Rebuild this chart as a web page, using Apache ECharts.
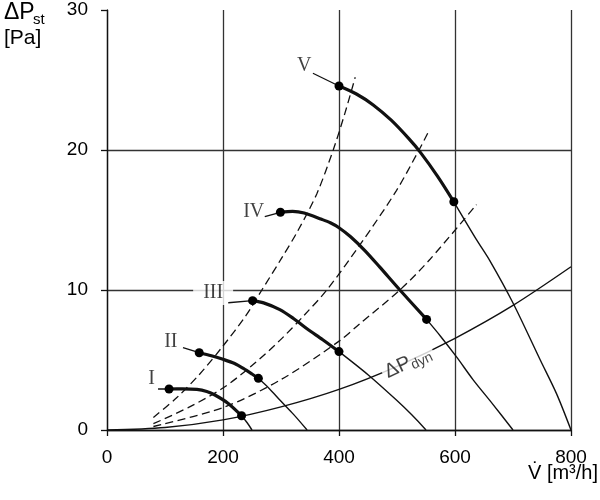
<!DOCTYPE html>
<html>
<head>
<meta charset="utf-8">
<script src="https://cdn.jsdelivr.net/npm/echarts@6/dist/echarts.min.js"></script>
<style>
html, body { margin: 0; padding: 0; background: #fff; }
#chart { width: 600px; height: 500px; }
</style>
</head>
<body>
<div id="chart"></div>
<script>
// axis ranges
var xMin = 0, xMax = 800, xStep = 200;
var yMin = 0, yMax = 30, yStep = 10;

// dynamic pressure curve
var dynCurve = [[0, 0], [100, 0.18], [200, 0.72], [300, 1.65], [400, 2.9], [500, 4.55], [600, 6.55], [700, 8.9], [800, 11.66]];

// system curves (dashed)
var system1 = [[80, 0.9], [120, 2.3], [160, 4.0], [200, 6.0], [240, 8.2], [267, 10], [300, 12.2], [330, 14.3], [362, 16.9], [390, 20], [410, 22.6], [428, 25.2]];
var system2 = [[80, 0.45], [140, 1.6], [200, 3.0], [250, 4.6], [298, 6.4], [340, 8.2], [379, 10], [439, 13.4], [499, 17.1], [538, 20], [553, 21.2]];
var system3 = [[80, 0.25], [200, 1.6], [300, 3.6], [402, 6.4], [436, 7.6], [505, 10], [557, 12.2], [637, 16.1]];

// fan curves: thick = working range, thin = rest of the curve
var fanNames = ['I', 'II', 'III', 'IV', 'V'];
var fanThick = [
  [[107, 2.93], [130, 2.94], [155, 2.9], [172, 2.75], [186, 2.5], [209, 1.9], [232, 1.02]],
  [[159, 5.52], [180, 5.3], [200, 5.05], [220, 4.75], [235, 4.4], [250, 4.0], [261, 3.69]],
  [[251, 9.24], [270, 9.08], [298, 8.6], [322, 7.95], [346, 7.2], [372, 6.45], [400, 5.6]],
  [[299, 15.55], [320, 15.62], [340, 15.5], [370, 15.05], [385, 14.8], [400, 14.45], [420, 13.8], [445, 12.8], [470, 11.65], [505, 10], [551, 7.9]],
  [[400, 24.57], [430, 24.0], [459, 23.22], [490, 22.13], [520, 20.83], [540, 19.85], [570, 18.12], [598, 16.3]]
];
var fanThin = [
  [[232, 1.02], [242, 0.5], [250, 0]],
  [[261, 3.69], [280, 2.95], [298, 2.14], [322, 1.1], [345, 0]],
  [[400, 5.6], [450, 3.95], [499, 2.14], [525, 1.1], [550, 0]],
  [[551, 7.9], [575, 6.7], [603, 5.2], [631, 3.6], [665, 1.85], [700, 0]],
  [[598, 16.3], [637, 13.6], [660, 12.1], [700, 9.07], [747, 5], [775, 2.6], [800, 0]]
];

// label anchors and leader line starts
var labelPos = [[77, 3.68], [110, 6.32], [183, 9.79], [253, 15.6], [340, 26.0]];
var leaderStart = [[88, 2.93], [131, 5.88], [209, 9.09], [272, 15.24], [355, 25.48]];
var dynLabelPos = [519, 4.8];

var chart = echarts.init(document.getElementById('chart'));

var ink = '#111';
var series = [];

function curve(d, style, z) {
  return { type: 'line', data: d, symbol: 'none', smooth: 0.3, lineStyle: style, z: z };
}

series.push(curve(dynCurve, { color: ink, width: 1.4 }, 2));

[system1, system2, system3].forEach(function (d) {
  series.push(curve(d, { color: ink, width: 1.3, type: [8, 4.5] }, 2));
});

fanThin.forEach(function (d) {
  series.push(curve(d, { color: ink, width: 1.4 }, 2));
});

fanThick.forEach(function (d) {
  series.push(curve(d, { color: ink, width: 3.2 }, 3));
});

// leader lines from labels to the first dot
fanThick.forEach(function (d, i) {
  series.push({
    type: 'line', data: [leaderStart[i], d[0]], symbol: 'none',
    lineStyle: { color: ink, width: 1.3 }, z: 2
  });
});

// dots at both ends of the working range
var dots = [];
fanThick.forEach(function (d) {
  dots.push(d[0]);
  dots.push(d[d.length - 1]);
});
series.push({
  type: 'scatter', data: dots, symbol: 'circle', symbolSize: 9,
  itemStyle: { color: '#000', opacity: 1 }, z: 4
});

// roman numerals
series.push({
  type: 'scatter', symbolSize: 0, z: 1,
  data: fanNames.map(function (n, i) {
    var item = { name: n, value: labelPos[i] };
    if (n === 'III') item.label = { backgroundColor: '#fff', padding: [2, 10] };
    return item;
  }),
  label: {
    show: true, position: 'inside', formatter: '{b}',
    fontFamily: 'Liberation Serif', fontSize: 20, color: ink
  }
});

// ΔPdyn label sitting on its curve
series.push({
  type: 'scatter', symbolSize: 0, z: 3,
  data: [{ value: dynLabelPos }],
  label: {
    show: true, position: 'inside', rotate: 25,
    formatter: '{a|ΔP}{b|dyn}',
    backgroundColor: '#fff', padding: [0, 3],
    rich: {
      a: { fontFamily: 'Liberation Sans', fontSize: 20, color: ink, lineHeight: 20 },
      b: { fontFamily: 'Liberation Sans', fontSize: 14, color: ink, lineHeight: 14, padding: [9, 0, 0, 0] }
    }
  }
});

var option = {
  animation: false,
  backgroundColor: '#fff',
  grid: { left: 107, right: 29, top: 10, bottom: 70, containLabel: false },
  xAxis: {
    type: 'value', min: xMin, max: xMax, interval: xStep,
    axisLine: { lineStyle: { color: ink, width: 1.3 } },
    axisTick: { show: true, length: 6, lineStyle: { color: ink, width: 1.3 } },
    axisLabel: { margin: 18, fontFamily: 'Liberation Sans', fontSize: 19, color: '#000' },
    splitLine: { show: true, lineStyle: { color: '#333', width: 1.3 } }
  },
  yAxis: {
    type: 'value', min: yMin, max: yMax, interval: yStep,
    axisLine: { show: true, lineStyle: { color: ink, width: 1.3 } },
    axisTick: { show: true, length: 6, lineStyle: { color: ink, width: 1.3 } },
    axisLabel: { margin: 19, fontFamily: 'Liberation Sans', fontSize: 19, color: '#000' },
    splitLine: { show: true, lineStyle: { color: ['#333', '#333', '#333', 'rgba(0,0,0,0)'], width: 1.3 } }
  },
  graphic: [
    { type: 'text', left: 4, top: 1, style: { text: 'ΔP', font: '23px "Liberation Sans"', fill: '#000' } },
    { type: 'text', left: 33, top: 12, style: { text: 'st', font: '15px "Liberation Sans"', fill: '#000' } },
    { type: 'text', left: 4, top: 28, style: { text: '[Pa]', font: '21px "Liberation Sans"', fill: '#000' } },
    { type: 'text', right: 2, top: 463, style: { text: 'V\u0307 [m³/h]', font: '20px "Liberation Sans", "DejaVu Sans"', fill: '#000' } }
  ],
  series: series
};

chart.setOption(option);
</script>
</body>
</html>
